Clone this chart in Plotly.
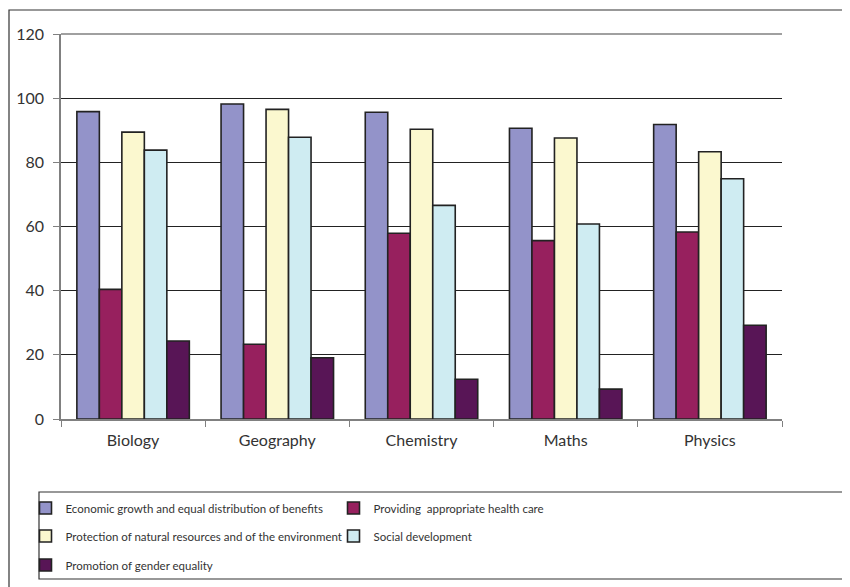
import plotly.graph_objects as go

categories = ["Biology", "Geography", "Chemistry", "Maths", "Physics"]
series_names = [
    "Economic growth and equal distribution of benefits",
    "Providing  appropriate health care",
    "Protection of natural resources and of the environment",
    "Social development",
    "Promotion of gender equality",
]
economic = [95.8, 98.2, 95.6, 90.6, 91.8]
health = [40.4, 23.3, 57.9, 55.6, 58.3]
protection = [89.4, 96.5, 90.3, 87.6, 83.3]
social = [83.8, 87.8, 66.6, 60.8, 74.9]
gender = [24.3, 19.1, 12.4, 9.3, 29.2]
y_ticks = [0, 20, 40, 60, 80, 100, 120]

colors = ["#9393C9", "#97205E", "#FBF8CF", "#CFECF2", "#581556"]
values = [economic, health, protection, social, gender]
legend_ids = ["legend", "legend", "legend2", "legend2", "legend3"]

fig = go.Figure()
for name, vals, col, lg in zip(series_names, values, colors, legend_ids):
    fig.add_trace(go.Bar(
        x=categories, y=vals, name=name, legend=lg,
        marker=dict(color=col, line=dict(color="#222222", width=1.6)),
    ))

# page body has an 8px margin; work in screen pixels and convert
O = 8
W, H = 850, 587
L, R, T, B = 61 - O, 782 - O, 34 - O, 419 - O
pw, ph = R - L, B - T

def px(x):
    return (x - O - L) / pw

def py(y):
    return (B - (y - O)) / ph

leg_common = dict(
    orientation="h", xanchor="left", yanchor="middle",
    font=dict(size=11.5, color="#333333"), entrywidth=263, entrywidthmode="pixels",
    bgcolor="rgba(0,0,0,0)", borderwidth=0, traceorder="normal",
    itemclick=False, itemdoubleclick=False,
)

fig.update_layout(
    width=W, height=H,
    margin=dict(l=L, r=W - R, t=T, b=H - B, autoexpand=False),
    paper_bgcolor="white", plot_bgcolor="white",
    barmode="group", bargap=0.22, bargroupgap=0,
    font=dict(family="Lato, Open Sans, sans-serif", size=16, color="#333333"),
    showlegend=True,
    legend=dict(x=px(25.5), y=py(508), **leg_common),
    legend2=dict(x=px(25.5), y=py(536), **leg_common),
    legend3=dict(x=px(25.5), y=py(565), **leg_common),
    xaxis=dict(
        showline=True, linecolor="#808080", linewidth=1.5,
        ticks="outside", tickson="boundaries", ticklen=6, tickcolor="#808080",
        showgrid=False, ticklabelstandoff=6,
    ),
    yaxis=dict(
        range=[0, 120], tickvals=y_ticks, showline=True, linecolor="#808080", linewidth=1.5,
        ticks="outside", ticklen=6, tickcolor="#808080",
        showgrid=True, gridcolor="#222222", gridwidth=1, zeroline=False,
        ticklabelstandoff=6,
    ),
    shapes=[
        dict(type="rect", xref="paper", yref="paper",
             x0=px(9), x1=px(880), y0=py(640), y1=py(10),
             line=dict(color="#333333", width=1.2), fillcolor="rgba(0,0,0,0)", layer="below"),
        dict(type="rect", xref="paper", yref="paper",
             x0=px(39), x1=px(880), y0=py(579), y1=py(492),
             line=dict(color="#333333", width=1.2), fillcolor="rgba(0,0,0,0)", layer="below"),
        dict(type="line", xref="paper", yref="paper",
             x0=0, x1=1, y0=1, y1=1, line=dict(color="#808080", width=1.5)),
    ],
)

fig.write_html("out.html")
